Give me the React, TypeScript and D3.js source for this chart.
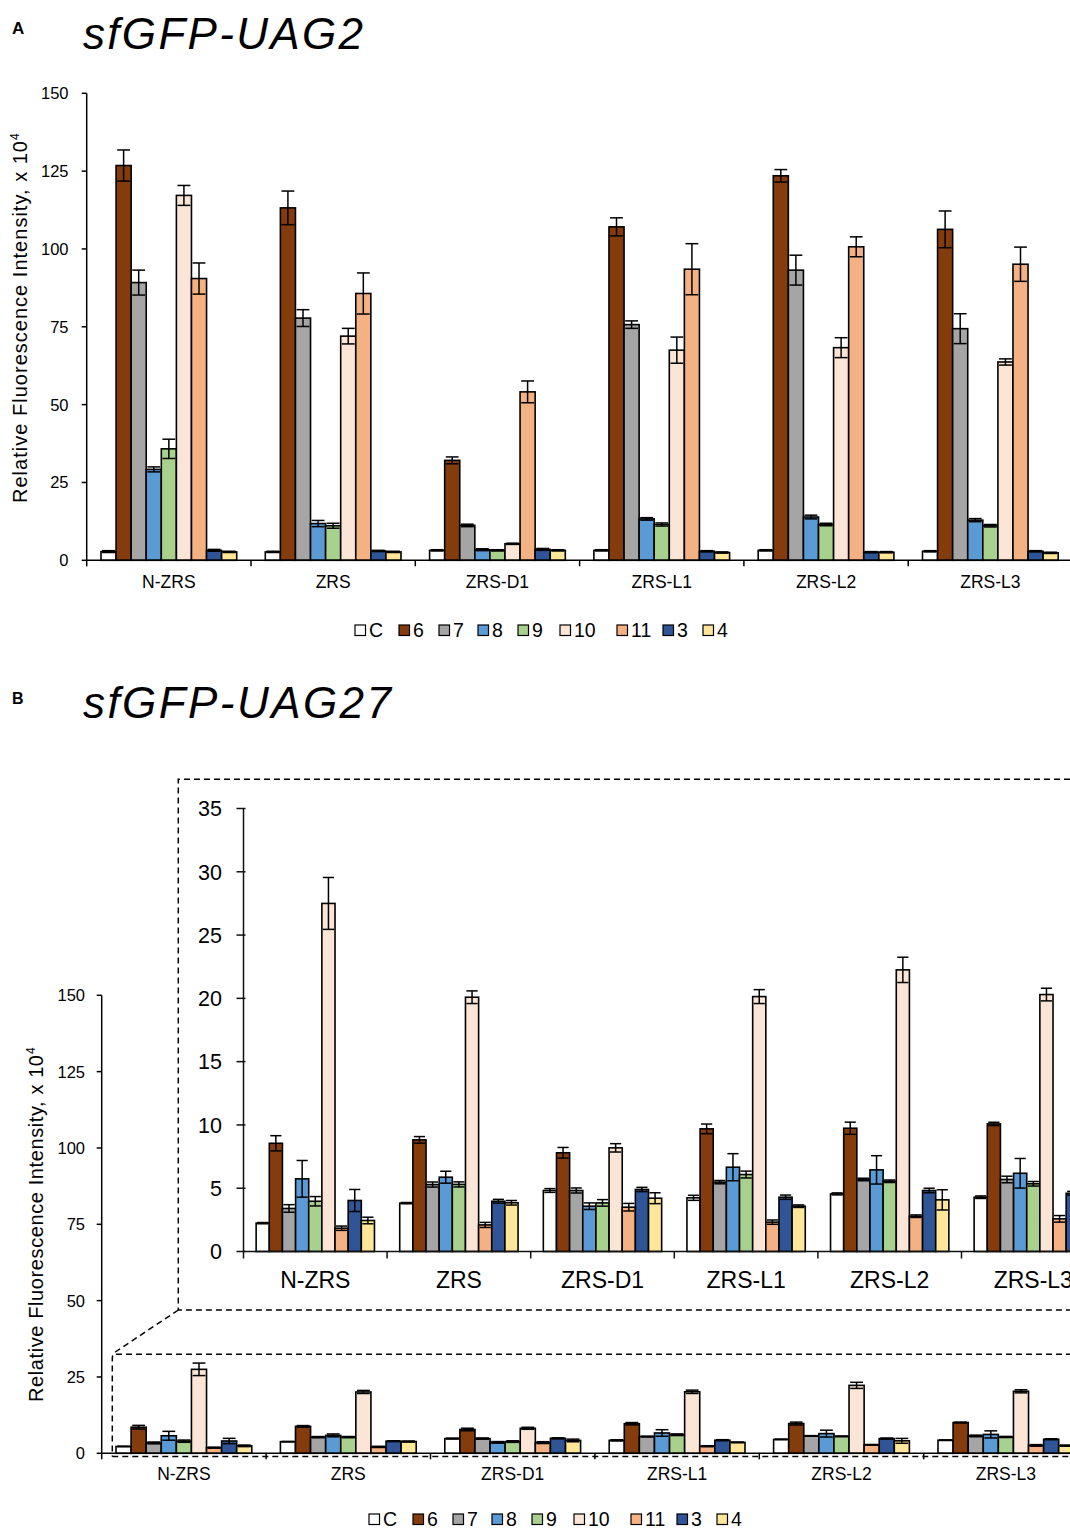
import React from 'react';
import * as d3 from 'd3';

const seriesNames = ['C', '6', '7', '8', '9', '10', '11', '3', '4'];
const seriesColors = ['#FFFFFF', '#843C0C', '#A5A5A5', '#5B9BD5', '#A9D18E', '#FBE5D6', '#F4B183', '#2F5597', '#FFE699'];
const categories = ['N-ZRS', 'ZRS', 'ZRS-D1', 'ZRS-L1', 'ZRS-L2', 'ZRS-L3'];

// sfGFP-UAG2 (x 10^4), rows = categories, columns = series
const uag2Values = [
  [2.8, 126.8, 89.2, 29.2, 35.8, 117.2, 90.5, 3.2, 2.7],
  [2.7, 113.2, 77.8, 11.8, 11.1, 72.0, 85.7, 3.0, 2.7],
  [3.2, 32.1, 11.2, 3.4, 3.2, 5.3, 54.1, 3.5, 3.2],
  [3.2, 107.1, 75.7, 13.3, 11.5, 67.5, 93.5, 2.9, 2.5],
  [3.2, 123.5, 93.2, 13.9, 11.5, 68.3, 100.7, 2.6, 2.6],
  [2.9, 106.3, 74.4, 12.9, 11.1, 63.7, 95.1, 2.9, 2.4],
];
const uag2Errors = [
  [0.3, 5.0, 4.0, 0.8, 3.1, 3.2, 5.0, 0.3, 0.2],
  [0.2, 5.4, 2.7, 1.0, 0.8, 2.5, 6.6, 0.2, 0.2],
  [0.2, 1.1, 0.4, 0.3, 0.2, 0.2, 3.5, 0.3, 0.2],
  [0.2, 2.9, 1.2, 0.4, 0.5, 4.2, 8.2, 0.2, 0.2],
  [0.2, 2.0, 4.8, 0.6, 0.4, 3.2, 3.2, 0.2, 0.2],
  [0.2, 5.9, 4.8, 0.5, 0.4, 1.0, 5.5, 0.2, 0.2],
];

// sfGFP-UAG27 (x 10^4)
const uag27Values = [
  [2.24, 8.55, 3.4, 5.74, 3.97, 27.5, 1.84, 4.03, 2.45],
  [3.82, 8.82, 5.29, 5.87, 5.3, 20.09, 2.1, 3.97, 3.85],
  [4.82, 7.8, 4.82, 3.58, 3.84, 8.19, 3.5, 4.9, 4.21],
  [4.24, 9.69, 5.48, 6.66, 6.08, 20.14, 2.32, 4.29, 3.58],
  [4.55, 9.74, 5.69, 6.45, 5.55, 22.25, 2.79, 4.82, 4.08],
  [4.29, 10.08, 5.69, 6.18, 5.35, 20.3, 2.58, 4.6, 2.5],
];
const uag27Errors = [
  [0.05, 0.6, 0.3, 1.45, 0.37, 2.05, 0.17, 0.87, 0.26],
  [0.05, 0.26, 0.2, 0.47, 0.2, 0.5, 0.2, 0.15, 0.18],
  [0.15, 0.42, 0.2, 0.26, 0.26, 0.33, 0.3, 0.17, 0.43],
  [0.2, 0.38, 0.13, 1.07, 0.27, 0.55, 0.17, 0.17, 0.1],
  [0.08, 0.48, 0.1, 1.12, 0.1, 1.0, 0.1, 0.18, 0.8],
  [0.1, 0.13, 0.26, 1.17, 0.18, 0.5, 0.26, 0.15, 0.2],
];

const mainTicks = [0, 25, 50, 75, 100, 125, 150];
const insetTicks = [0, 5, 10, 15, 20, 25, 30, 35];

const FONT = 'Liberation Sans, Arial, Helvetica, sans-serif';
const legendOffsets = [0, 44, 84, 123, 163, 205, 262, 308, 348];

type Cfg = {
  x0: number; step: number; y0: number; yTop: number; yMax: number;
  ticks: number[]; tickFont: number; tickLabelEnd: number;
  tickOut: number; tickIn: number; xTickLen: number;
  catFont: number; catBaseline: number; pad: number;
  values: number[][]; errors: number[][]; axisColor: string;
};

function BarChart({ cfg }: { cfg: Cfg }) {
  const xEnd = cfg.x0 + cfg.step * categories.length;
  const x0 = d3.scaleBand<string>().domain(categories).range([cfg.x0, xEnd]).padding(0);
  const x1 = d3.scaleBand<string>().domain(seriesNames).range([cfg.step * cfg.pad, cfg.step * (1 - cfg.pad)]).padding(0);
  const y = d3.scaleLinear().domain([0, cfg.yMax]).range([cfg.y0, cfg.yTop]);
  const bw = x1.bandwidth();
  const cap = bw * 0.85;
  return (
    <g>
      {categories.map((c, ci) => (
        <g key={c}>
          {seriesNames.map((s, si) => {
            const v = cfg.values[ci][si];
            const bx = (x0(c) as number) + (x1(s) as number);
            return (
              <rect key={s} x={bx} y={y(v)} width={bw} height={y(0) - y(v)}
                fill={seriesColors[si]} stroke="#000" strokeWidth={1.6} />
            );
          })}
          {seriesNames.map((s, si) => {
            const v = cfg.values[ci][si];
            const e = cfg.errors[ci][si];
            const cx = (x0(c) as number) + (x1(s) as number) + bw / 2;
            const yt = y(v + e);
            const yb = y(Math.max(0, v - e));
            return (
              <g key={'e' + s} stroke="#000" strokeWidth={1.5}>
                <line x1={cx} x2={cx} y1={yt} y2={yb} />
                <line x1={cx - cap / 2} x2={cx + cap / 2} y1={yt} y2={yt} />
                <line x1={cx - cap / 2} x2={cx + cap / 2} y1={yb} y2={yb} />
              </g>
            );
          })}
        </g>
      ))}
      {/* y axis */}
      <line x1={cfg.x0} x2={cfg.x0} y1={cfg.y0} y2={cfg.yTop} stroke={cfg.axisColor} strokeWidth={1.5} />
      {cfg.ticks.map((t) => (
        <g key={t}>
          <line x1={cfg.x0 - cfg.tickOut} x2={cfg.x0 + cfg.tickIn} y1={y(t)} y2={y(t)} stroke={cfg.axisColor} strokeWidth={1.5} />
          <text x={cfg.tickLabelEnd} y={y(t)} dy="0.36em" textAnchor="end" fontSize={cfg.tickFont} fontFamily={FONT} fill="#000">{t}</text>
        </g>
      ))}
      {/* x axis */}
      <line x1={cfg.x0} x2={xEnd} y1={cfg.y0} y2={cfg.y0} stroke={cfg.axisColor} strokeWidth={1.5} />
      {d3.range(categories.length + 1).map((i) => (
        <line key={i} x1={cfg.x0 + i * cfg.step} x2={cfg.x0 + i * cfg.step} y1={cfg.y0} y2={cfg.y0 + cfg.xTickLen} stroke={cfg.axisColor} strokeWidth={1.5} />
      ))}
      {categories.map((c) => (
        <text key={c} x={(x0(c) as number) + x0.bandwidth() / 2} y={cfg.catBaseline} textAnchor="middle" fontSize={cfg.catFont} fontFamily={FONT} fill="#000">{c}</text>
      ))}
    </g>
  );
}

function Legend({ x, y }: { x: number; y: number }) {
  return (
    <g>
      {seriesNames.map((s, i) => (
        <g key={s} transform={`translate(${x + legendOffsets[i]},${y})`}>
          <rect x={0} y={-12} width={10.5} height={10.5} fill={seriesColors[i]} stroke="#000" strokeWidth={1.2} />
          <text x={14} y={0} fontSize={19.5} fontFamily={FONT} fill="#000">{s}</text>
        </g>
      ))}
    </g>
  );
}

function YLabel({ x, y, len }: { x: number; y: number; len: number }) {
  return (
    <g transform={`translate(${x},${y}) rotate(-90)`}>
      <text x={0} y={0} fontSize={20} fontFamily={FONT} fill="#000" textLength={len} lengthAdjust="spacing">Relative Fluorescence Intensity, x 10</text>
      <text x={len + 1} y={-8} fontSize={12} fontFamily={FONT} fill="#000">4</text>
    </g>
  );
}

export default function App() {
  const topCfg: Cfg = {
    x0: 86.7, step: 164.3, y0: 560.3, yTop: 93.3, yMax: 150, ticks: mainTicks,
    tickFont: 16.5, tickLabelEnd: 68.5, tickOut: 5, tickIn: 0, xTickLen: 6,
    catFont: 17.5, catBaseline: 588, pad: 0.087,
    values: uag2Values, errors: uag2Errors, axisColor: '#000',
  };
  const bottomCfg: Cfg = {
    x0: 101.7, step: 164.4, y0: 1453.3, yTop: 995.3, yMax: 150, ticks: mainTicks,
    tickFont: 16.5, tickLabelEnd: 85, tickOut: 5, tickIn: 0, xTickLen: 6,
    catFont: 17.5, catBaseline: 1480, pad: 0.087,
    values: uag27Values, errors: uag27Errors, axisColor: '#000',
  };
  const insetCfg: Cfg = {
    x0: 243.5, step: 143.6, y0: 1251.5, yTop: 808.5, yMax: 35, ticks: insetTicks,
    tickFont: 21.5, tickLabelEnd: 222, tickOut: 7, tickIn: 2, xTickLen: 7,
    catFont: 23, catBaseline: 1288, pad: 0.088,
    values: uag27Values, errors: uag27Errors, axisColor: '#111',
  };
  const dash = '6 4';
  return (
    <svg width={1070} height={1531} style={{ position: 'absolute', left: 0, top: 0, background: '#fff' }}>
      <rect x={0} y={0} width={1070} height={1531} fill="#fff" />
      {/* Panel A */}
      <text x={12} y={34} fontSize={17} fontWeight="bold" fontFamily={FONT} fill="#000">A</text>
      <text x={83} y={49} fontSize={44} fontStyle="italic" fontFamily={FONT} fill="#000" textLength={280} lengthAdjust="spacing">sfGFP-UAG2</text>
      <YLabel x={27} y={503} len={362} />
      <BarChart cfg={topCfg} />
      <Legend x={355} y={637} />

      {/* Panel B */}
      <text x={12} y={704} fontSize={16} fontWeight="bold" fontFamily={FONT} fill="#000">B</text>
      <text x={83} y={718} fontSize={44} fontStyle="italic" fontFamily={FONT} fill="#000" textLength={308} lengthAdjust="spacing">sfGFP-UAG27</text>

      {/* dashed zoom boxes */}
      <g fill="none" stroke="#000" strokeWidth={1.5} strokeDasharray={dash}>
        <path d="M1080,779.3 H178.3 V1310 H1080" />
        <path d="M178.3,1310 L116,1351.5 Q112.3,1354.3 112.3,1358 V1456.5" />
        <path d="M116,1354.3 H1080" />
        <path d="M112.3,1456.5 H1080" />
      </g>

      <BarChart cfg={insetCfg} />
      <YLabel x={43} y={1402} len={347} />
      <BarChart cfg={bottomCfg} />
      <Legend x={369} y={1526} />
    </svg>
  );
}
